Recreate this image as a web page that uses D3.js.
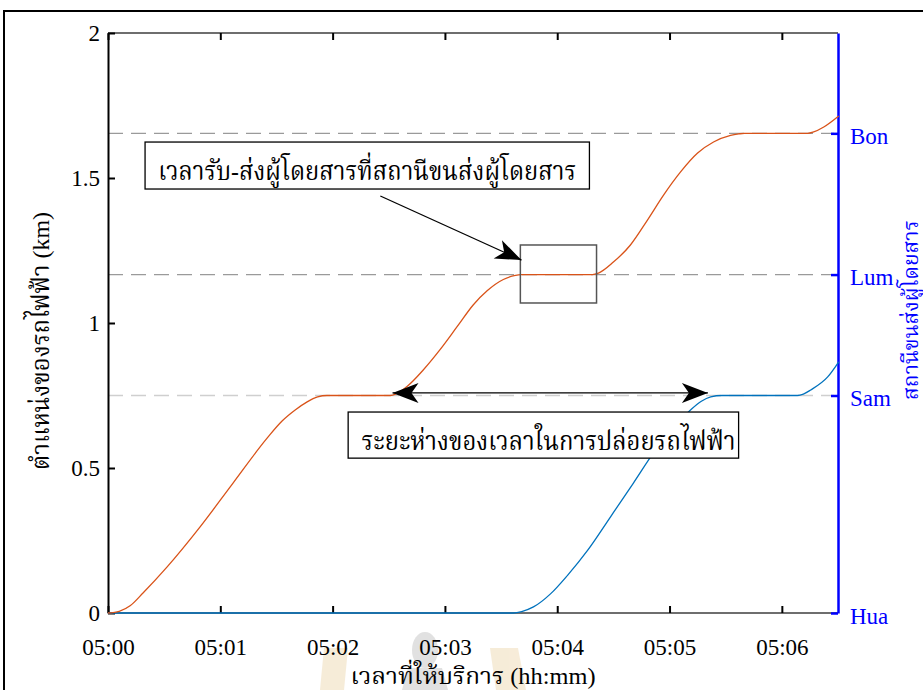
<!DOCTYPE html>
<html>
<head>
<meta charset="utf-8">
<script src="https://cdn.jsdelivr.net/npm/d3@7"></script>
<style>
  html, body { margin: 0; padding: 0; background: #fff; }
  svg { display: block; }
  .serif { font-family: "Liberation Serif", "Times New Roman", serif; }
  .thai { font-family: "Liberation Serif", "Noto Serif Thai", "Noto Sans Thai", "Garuda", "Loma", serif; }
</style>
</head>
<body>
<svg id="chart" width="923" height="690"></svg>
<script>
// Time axis in seconds after 05:00:00, distance in km
const timeTicks = [0, 60, 120, 180, 240, 300, 360];
const timeTickLabels = ["05:00", "05:01", "05:02", "05:03", "05:04", "05:05", "05:06"];
const kmTicks = [0, 0.5, 1, 1.5, 2];
const kmTickLabels = ["0", "0.5", "1", "1.5", "2"];

// Stations along the line (right axis)
const stationNames = ["Hua", "Sam", "Lum", "Bon"];
const stationKm = [0, 0.75, 1.167, 1.654];

// Train 1 (orange): time [s], position [km]
const train1Time = [0, 6, 12, 18.7, 31.6, 49.2, 66.8, 85.0, 93, 100, 106.4, 112, 117, 150.8, 154, 159.9, 168.4, 177.5, 186.6, 195.2, 202.7, 211.2, 217, 221,
  258.8, 262, 270, 279.1, 288.2, 296.8, 305.9, 315, 323.5, 332.6, 337, 340, 373.8, 377, 382.4, 390.4];
const train1Km = [0, 0.006, 0.026, 0.069, 0.159, 0.297, 0.448, 0.603, 0.662, 0.700, 0.728, 0.745, 0.75, 0.75, 0.756, 0.782, 0.838, 0.909, 0.988, 1.063, 1.112, 1.150, 1.163, 1.167,
  1.167, 1.172, 1.21, 1.269, 1.355, 1.441, 1.521, 1.586, 1.624, 1.647, 1.652, 1.654, 1.654, 1.659, 1.676, 1.714];

// Train 2 (blue): time [s], position [km]
const train2Time = [0, 216.6, 221, 227.3, 236.4, 245.5, 256.1, 268.4, 280.7, 291.4, 302.1, 311.2, 317, 322, 328, 368.4, 371.5, 375.4, 384.5, 390.4];
const train2Km = [0, 0, 0.005, 0.021, 0.066, 0.130, 0.215, 0.331, 0.448, 0.552, 0.641, 0.700, 0.730, 0.745, 0.75, 0.75, 0.755, 0.769, 0.814, 0.866];

// Annotation texts
const dwellLabel = "เวลารับ-ส่งผู้โดยสารที่สถานีขนส่งผู้โดยสาร";
const headwayLabel = "ระยะห่างของเวลาในการปล่อยรถไฟฟ้า";
const xTitle = "เวลาที่ให้บริการ (hh:mm)";
const yTitleLeft = "ตำแหน่งของรถไฟฟ้า (km)";
const yTitleRight = "สถานีขนส่งผู้โดยสาร";

const svg = d3.select("#chart");
const plotL = 108, plotR = 838, plotT = 33, plotB = 613;

const x = d3.scaleLinear().domain([0, 390]).range([plotL, plotR]);
const y = d3.scaleLinear().domain([0, 2]).range([plotB, plotT]);

// Outer figure frame
svg.append("path")
  .attr("d", `M4,700 L4,11 L930,11`)
  .attr("fill", "none").attr("stroke", "#000").attr("stroke-width", 2);

// Faint watermark emblem below the axis
const wm = svg.append("g").attr("opacity", 0.22);
wm.append("path").attr("d", "M324,648 L348,648 L344,690 L320,690 Z").attr("fill", "#d9aa50");
wm.append("path").attr("d", "M490,648 L518,648 L526,690 L496,690 Z").attr("fill", "#d9aa50");
wm.append("ellipse").attr("cx", 425).attr("cy", 650).attr("rx", 13).attr("ry", 18).attr("fill", "#7a7a7a");
wm.append("path").attr("d", "M408,668 L442,668 L448,690 L402,690 Z").attr("fill", "#7a7a7a");

// Station reference lines (dashed)
svg.append("g").selectAll("line")
  .data(stationKm.slice(1))
  .join("line")
  .attr("x1", plotL).attr("x2", plotR - 4)
  .attr("y1", d => y(d)).attr("y2", d => y(d))
  .attr("stroke", (d, i) => i === 0 ? "#cfcfcf" : "#9a9a9a")
  .attr("stroke-width", 1.3)
  .attr("stroke-dasharray", "15,8");

// Top and bottom box lines
svg.append("line").attr("x1", plotL).attr("x2", plotR).attr("y1", plotT).attr("y2", plotT)
  .attr("stroke", "#6e6e6e").attr("stroke-width", 2);
svg.append("line").attr("x1", plotL).attr("x2", plotR).attr("y1", plotB).attr("y2", plotB)
  .attr("stroke", "#6e6e6e").attr("stroke-width", 2);

// Bottom axis (ticks inward)
const xAxisB = d3.axisBottom(x).tickValues(timeTicks)
  .tickFormat((d, i) => timeTickLabels[i]).tickSizeInner(-7).tickSizeOuter(0).tickPadding(26);
const gxb = svg.append("g").attr("transform", `translate(0,${plotB})`).call(xAxisB);
gxb.select(".domain").remove();
gxb.selectAll(".tick line").attr("stroke", "#000").attr("stroke-width", 2);
gxb.selectAll(".tick text").attr("class", "serif").attr("font-size", 23).attr("fill", "#000");

// Top axis ticks (inward, no labels)
const xAxisT = d3.axisTop(x).tickValues(timeTicks).tickFormat("").tickSizeInner(-7).tickSizeOuter(0);
const gxt = svg.append("g").attr("transform", `translate(0,${plotT})`).call(xAxisT);
gxt.select(".domain").remove();
gxt.selectAll(".tick line").attr("stroke", "#000").attr("stroke-width", 2);

// Left axis
const yAxisL = d3.axisLeft(y).tickValues(kmTicks)
  .tickFormat((d, i) => kmTickLabels[i]).tickSizeInner(-7).tickSizeOuter(0).tickPadding(8);
const gyl = svg.append("g").attr("transform", `translate(${plotL},0)`).call(yAxisL);
gyl.select(".domain").attr("stroke", "#000").attr("stroke-width", 2);
gyl.selectAll(".tick line").attr("stroke", "#000").attr("stroke-width", 2);
gyl.selectAll(".tick text").attr("class", "serif").attr("font-size", 23).attr("fill", "#000");

// Right axis with stations
const yAxisR = d3.axisRight(y).tickValues(stationKm)
  .tickFormat((d, i) => stationNames[i]).tickSizeInner(-7).tickSizeOuter(0).tickPadding(12);
const gyr = svg.append("g").attr("transform", `translate(${plotR},0)`).call(yAxisR);
gyr.select(".domain").attr("stroke", "#0000ff").attr("stroke-width", 2.5);
gyr.selectAll(".tick line").attr("stroke", "#0000ff").attr("stroke-width", 2.5);
gyr.selectAll(".tick text").attr("class", "serif").attr("font-size", 23).attr("fill", "#0000ff")
  .attr("dy", "0.45em");

// Train trajectories
const line = d3.line().x(d => x(d[0])).y(d => y(d[1])).curve(d3.curveMonotoneX);
const train2 = train2Time.map((t, i) => [t, train2Km[i]]);
const train1 = train1Time.map((t, i) => [t, train1Km[i]]);
svg.append("path").datum(train2).attr("d", line)
  .attr("fill", "none").attr("stroke", "#0072BD").attr("stroke-width", 1.3);
svg.append("path").datum(train1).attr("d", line)
  .attr("fill", "none").attr("stroke", "#D95319").attr("stroke-width", 1.3);

// Arrow helper: filled arrowhead with notched back
function arrowHead(g, tipX, tipY, fromX, fromY) {
  const ang = Math.atan2(tipY - fromY, tipX - fromX) * 180 / Math.PI;
  g.append("path")
    .attr("d", "M0,0 L-26,-10 L-19,0 L-26,10 Z")
    .attr("transform", `translate(${tipX},${tipY}) rotate(${ang})`)
    .attr("fill", "#000");
}

// Dwell-time box at Lum
const dwellBox = { t0: 220.3, t1: 261, k0: 1.069, k1: 1.269 };
svg.append("rect")
  .attr("x", x(dwellBox.t0)).attr("y", y(dwellBox.k1))
  .attr("width", x(dwellBox.t1) - x(dwellBox.t0)).attr("height", y(dwellBox.k0) - y(dwellBox.k1))
  .attr("fill", "none").attr("stroke", "#555").attr("stroke-width", 1.5);

// Dwell label and its pointer
const ann = svg.append("g");
const lab1 = { t0: 19.8, t1: 257.2, k0: 1.462, k1: 1.624 };
ann.append("rect")
  .attr("x", x(lab1.t0)).attr("y", y(lab1.k1))
  .attr("width", x(lab1.t1) - x(lab1.t0)).attr("height", y(lab1.k0) - y(lab1.k1))
  .attr("fill", "#fff").attr("stroke", "#000").attr("stroke-width", 1.3);
ann.append("text").attr("class", "thai")
  .attr("x", (x(lab1.t0) + x(lab1.t1)) / 2).attr("y", y(lab1.k0) - 9)
  .attr("text-anchor", "middle").attr("font-size", 26)
  .attr("textLength", 418).attr("lengthAdjust", "spacingAndGlyphs")
  .text(dwellLabel);
const p0 = [x(145.5), y(1.438)], p1 = [x(220.9), y(1.217)];
ann.append("line").attr("x1", p0[0]).attr("y1", p0[1]).attr("x2", p1[0]).attr("y2", p1[1])
  .attr("stroke", "#000").attr("stroke-width", 1.3);
arrowHead(ann, p1[0], p1[1], p0[0], p0[1]);

// Headway double arrow at Sam
const hw = { t0: 152, t1: 320.5, k: 0.759 };
ann.append("line").attr("x1", x(hw.t0)).attr("x2", x(hw.t1)).attr("y1", y(hw.k)).attr("y2", y(hw.k))
  .attr("stroke", "#000").attr("stroke-width", 1.3);
arrowHead(ann, x(hw.t0), y(hw.k), x(hw.t1), y(hw.k));
arrowHead(ann, x(hw.t1), y(hw.k), x(hw.t0), y(hw.k));

const lab2 = { t0: 128.3, t1: 336.9, k0: 0.534, k1: 0.693 };
ann.append("rect")
  .attr("x", x(lab2.t0)).attr("y", y(lab2.k1))
  .attr("width", x(lab2.t1) - x(lab2.t0)).attr("height", y(lab2.k0) - y(lab2.k1))
  .attr("fill", "#fff").attr("stroke", "#000").attr("stroke-width", 1.3);
ann.append("text").attr("class", "thai")
  .attr("x", (x(lab2.t0) + x(lab2.t1)) / 2 + 5).attr("y", y(lab2.k0) - 8)
  .attr("text-anchor", "middle").attr("font-size", 26)
  .attr("textLength", 374).attr("lengthAdjust", "spacingAndGlyphs")
  .text(headwayLabel);

// Axis titles
svg.append("text").attr("class", "thai")
  .attr("x", 473).attr("y", 684).attr("text-anchor", "middle")
  .attr("font-size", 23).attr("fill", "#000")
  .attr("textLength", 245).attr("lengthAdjust", "spacingAndGlyphs")
  .text(xTitle);
svg.append("text").attr("class", "thai")
  .attr("transform", `translate(49,${(plotT + plotB) / 2 + 18}) rotate(-90)`)
  .attr("text-anchor", "middle").attr("font-size", 24).attr("fill", "#000")
  .attr("textLength", 258).attr("lengthAdjust", "spacingAndGlyphs")
  .text(yTitleLeft);
svg.append("text").attr("class", "thai")
  .attr("transform", `translate(918,310) rotate(-90)`)
  .attr("text-anchor", "middle").attr("font-size", 22).attr("fill", "#0000ff")
  .attr("textLength", 180).attr("lengthAdjust", "spacingAndGlyphs")
  .text(yTitleRight);
</script>
</body>
</html>
